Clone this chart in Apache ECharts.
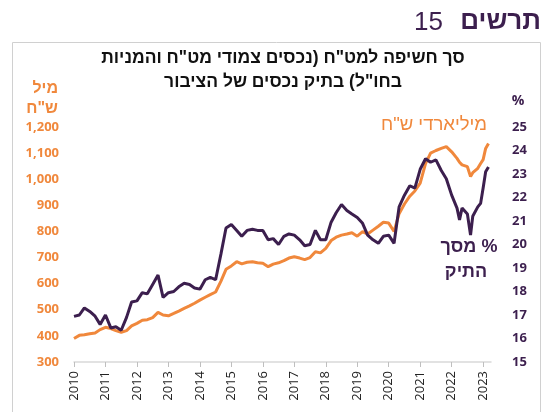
<!DOCTYPE html>
<html>
<head>
<meta charset="utf-8">
<script src="https://cdn.jsdelivr.net/npm/echarts@6/dist/echarts.min.js"></script>
<style>
  html, body { margin: 0; padding: 0; background: #fff; }
  #chart { width: 544px; height: 412px; }
</style>
</head>
<body>
<div id="chart"></div>
<script>
// decimal years of the readings
var dates = [
  2010.00, 2010.17, 2010.33, 2010.50, 2010.67, 2010.83,
  2011.00, 2011.17, 2011.33, 2011.50, 2011.67, 2011.83,
  2012.00, 2012.17, 2012.33, 2012.50, 2012.67, 2012.83,
  2013.00, 2013.17, 2013.33, 2013.50, 2013.67, 2013.83,
  2014.00, 2014.17, 2014.33, 2014.50, 2014.67, 2014.83,
  2015.00, 2015.17, 2015.33, 2015.50, 2015.67, 2015.83,
  2016.00, 2016.17, 2016.33, 2016.50, 2016.67, 2016.83,
  2017.00, 2017.17, 2017.33, 2017.50, 2017.67, 2017.83,
  2018.00, 2018.17, 2018.33, 2018.50, 2018.67, 2018.83,
  2019.00, 2019.17, 2019.33, 2019.50, 2019.67, 2019.83,
  2020.00, 2020.17, 2020.33, 2020.50, 2020.67, 2020.83,
  2021.00, 2021.17, 2021.33, 2021.50, 2021.67, 2021.83,
  2022.00, 2022.17, 2022.25, 2022.33, 2022.50, 2022.60,
  2022.67, 2022.83, 2022.92, 2023.00, 2023.08, 2023.17
];

// מיליארדי ש"ח (left axis)
var billions = [
  390, 402, 404, 408, 411, 424,
  433, 428, 420, 414, 420, 438,
  448, 460, 462, 470, 490, 480,
  477, 486, 495, 505, 515, 525,
  537, 548, 558, 568, 610, 655,
  668, 684, 676, 682, 684, 680,
  678, 665, 675, 680, 688, 698,
  703, 698, 692, 700, 722, 718,
  735, 765, 778, 786, 790, 795,
  782, 799, 790, 805, 820, 835,
  832, 800, 868, 905, 935, 955,
  985, 1060, 1100, 1110, 1118, 1125,
  1105, 1080, 1065, 1055, 1048, 1010,
  1025, 1042, 1060, 1075, 1118, 1137
];

// % מסך התיק (right axis)
var sharePct = [
  16.94, 17.00, 17.30, 17.15, 16.95, 16.60,
  17.00, 16.45, 16.50, 16.35, 16.90, 17.55,
  17.60, 17.95, 17.90, 18.30, 18.70, 17.75,
  17.95, 18.00, 18.20, 18.35, 18.30, 18.15,
  18.10, 18.50, 18.60, 18.50, 19.60, 20.70,
  20.85, 20.60, 20.35, 20.60, 20.65, 20.60,
  20.60, 20.20, 20.25, 20.00, 20.35, 20.45,
  20.40, 20.20, 19.95, 20.00, 20.60, 20.20,
  20.20, 20.95, 21.35, 21.70, 21.45, 21.30,
  21.15, 20.90, 20.40, 20.20, 20.05, 20.35,
  20.40, 20.05, 21.60, 22.10, 22.50, 22.40,
  23.20, 23.65, 23.50, 23.60, 23.15, 22.80,
  22.10, 21.55, 21.05, 21.55, 21.30, 20.40,
  21.20, 21.60, 21.75, 22.40, 23.10, 23.30
];

var yearTicks = [2010, 2023];
var leftTicks = [300, 1200, 100];
var rightTicks = [15, 25, 1];

var ORANGE = '#F0883C';
var PURPLE = '#3C1F4E';
var HEB = '"Liberation Sans", Arial, sans-serif';
var NUM = '"Open Sans", "Liberation Sans", sans-serif';

function pairs(xs, ys) {
  return xs.map(function (x, i) { return [x, ys[i]]; });
}

var chart = echarts.init(document.getElementById('chart'));
chart.setOption({
  animation: false,
  backgroundColor: '#fff',
  grid: { left: 74, right: 53, top: 127, bottom: 50 },
  graphic: [
    { type: 'rect', shape: { x: 12.5, y: 42.5, width: 528, height: 400 },
      style: { fill: 'none', stroke: '#d0d0d0', lineWidth: 1 } },
    { type: 'text', right: 3, top: 9,
      style: { text: 'תרשים', font: 'bold 26px ' + HEB, fill: PURPLE } },
    { type: 'text', left: 414, top: 10,
      style: { text: '15', font: '26px ' + HEB, fill: PURPLE } },
    { type: 'text', x: 283, y: 58,
      style: { text: 'סך חשיפה למט"ח (נכסים צמודי מט"ח והמניות', font: 'bold 17.5px ' + HEB,
        fill: '#111', align: 'center', verticalAlign: 'middle' } },
    { type: 'text', x: 283, y: 82,
      style: { text: 'בחו"ל) בתיק נכסים של הציבור', font: 'bold 17.5px ' + HEB,
        fill: '#111', align: 'center', verticalAlign: 'middle' } },
    { type: 'text', x: 58, y: 89,
      style: { text: 'מיל', font: 'bold 16px ' + HEB, fill: ORANGE, align: 'right', verticalAlign: 'middle' } },
    { type: 'text', x: 58, y: 109,
      style: { text: 'ש"ח', font: 'bold 16px ' + HEB, fill: ORANGE, align: 'right', verticalAlign: 'middle' } },
    { type: 'text', x: 518, y: 101,
      style: { text: '%', font: 'bold 14px ' + NUM, fill: PURPLE, align: 'center', verticalAlign: 'middle' } },
    { type: 'text', x: 434, y: 125,
      style: { text: 'מיליארדי ש"ח', font: '18.5px ' + HEB, fill: ORANGE, align: 'center', verticalAlign: 'middle' } },
    { type: 'text', x: 469, y: 247,
      style: { text: 'מסך %', font: 'bold 18px ' + HEB, fill: PURPLE, align: 'center', verticalAlign: 'middle' } },
    { type: 'text', x: 466, y: 272,
      style: { text: 'התיק', font: 'bold 18px ' + HEB, fill: PURPLE, align: 'center', verticalAlign: 'middle' } }
  ],
  xAxis: {
    type: 'value',
    min: yearTicks[0],
    max: yearTicks[1] + 0.25,
    interval: 1,
    axisLine: { show: true, lineStyle: { color: '#d9d9d9', width: 1.5 } },
    axisTick: { show: true, length: 5, lineStyle: { color: '#bfbfbf' } },
    splitLine: { show: false },
    axisLabel: {
      rotate: 90,
      margin: 9,
      color: '#222',
      fontSize: 13,
      fontFamily: NUM,
      showMaxLabel: false,
      formatter: function (v) { return Math.round(v) === v ? String(v) : ''; }
    }
  },
  yAxis: [
    {
      type: 'value',
      min: leftTicks[0], max: leftTicks[1], interval: leftTicks[2],
      axisLine: { show: false }, axisTick: { show: false }, splitLine: { show: false },
      axisLabel: {
        margin: 15, color: ORANGE, fontSize: 13, fontWeight: 'bold', fontFamily: NUM,
        formatter: function (v) { return v.toLocaleString('en-US'); }
      }
    },
    {
      type: 'value',
      min: rightTicks[0], max: rightTicks[1], interval: rightTicks[2],
      axisLine: { show: false }, axisTick: { show: false }, splitLine: { show: false },
      axisLabel: { margin: 21, color: PURPLE, fontSize: 13, fontWeight: 'bold', fontFamily: NUM }
    }
  ],
  series: [
    {
      name: 'מיליארדי ש"ח', type: 'line', yAxisIndex: 0, showSymbol: false,
      data: pairs(dates, billions),
      lineStyle: { color: ORANGE, width: 3 }
    },
    {
      name: '% מסך התיק', type: 'line', yAxisIndex: 1, showSymbol: false,
      data: pairs(dates, sharePct),
      lineStyle: { color: PURPLE, width: 3 }
    }
  ]
});
</script>
</body>
</html>
